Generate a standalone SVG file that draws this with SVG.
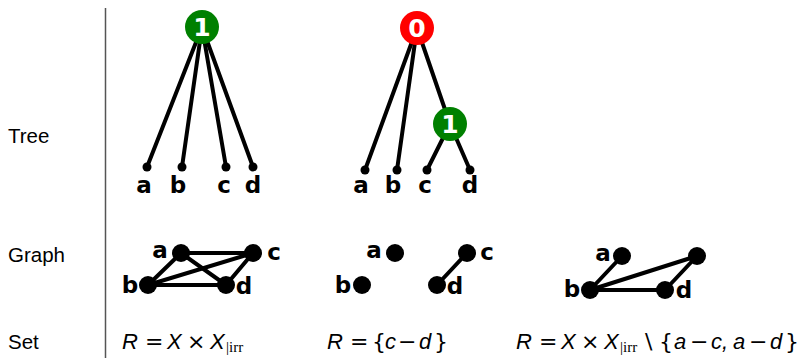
<svg xmlns="http://www.w3.org/2000/svg" width="800" height="358" viewBox="0 0 800 358">
  <style>
    .row { font-family: "Liberation Sans", Arial, sans-serif; font-size: 20.5px; fill: #000; }
    .lbl { font-family: "DejaVu Sans", sans-serif; font-weight: bold; font-size: 23px; fill: #000; text-anchor: middle; }
    .num { font-family: "DejaVu Sans", sans-serif; font-weight: bold; font-size: 25px; fill: #fff; text-anchor: middle; }
    .edge { stroke: #000; stroke-width: 4; stroke-linecap: round; fill: none; }
    .leaf { fill: #000; }
    .gnode { fill: #000; }
    .mi { font-family: "Liberation Sans", Arial, sans-serif; font-style: italic; font-size: 22px; fill: #000; }
    .mo { font-family: "DejaVu Sans", sans-serif; font-size: 22px; fill: #000; }
    .sub { font-family: "Liberation Serif", "Times New Roman", serif; font-size: 15px; fill: #000; }
  </style>

  <!-- row headings and divider -->
  <g id="headings">
    <text class="row" x="8" y="143">Tree</text>
    <text class="row" x="8" y="262">Graph</text>
    <text class="row" x="8" y="349">Set</text>
    <line x1="105.5" y1="8" x2="105.5" y2="358" stroke="#555" stroke-width="1.5"/>
  </g>

  <!-- tree edges -->
  <g id="tree-connectors">
    <line class="edge" x1="202" y1="27" x2="147" y2="167"/>
    <line class="edge" x1="202" y1="27" x2="182" y2="167"/>
    <line class="edge" x1="202" y1="27" x2="226" y2="167"/>
    <line class="edge" x1="202" y1="27" x2="253" y2="167"/>

    <line class="edge" x1="417" y1="28" x2="365" y2="170"/>
    <line class="edge" x1="417" y1="28" x2="397" y2="170"/>
    <line class="edge" x1="417" y1="28" x2="450" y2="124"/>
    <line class="edge" x1="450" y1="124" x2="427" y2="170"/>
    <line class="edge" x1="450" y1="124" x2="470" y2="170"/>
  </g>

  <!-- tree 1 -->
  <g id="t1-root">
    <circle cx="202" cy="27" r="17" fill="#008000"/>
    <text class="num" x="202" y="36">1</text>
  </g>
  <g id="t1-a"><circle class="leaf" cx="147" cy="167" r="4.5"/><text class="lbl" x="144" y="193">a</text></g>
  <g id="t1-b"><circle class="leaf" cx="182" cy="167" r="4.5"/><text class="lbl" x="178" y="193">b</text></g>
  <g id="t1-c"><circle class="leaf" cx="226" cy="167" r="4.5"/><text class="lbl" x="224" y="193">c</text></g>
  <g id="t1-d"><circle class="leaf" cx="253" cy="167" r="4.5"/><text class="lbl" x="253" y="193">d</text></g>

  <!-- tree 2 -->
  <g id="t2-root">
    <circle cx="417" cy="28" r="17" fill="#ff0000"/>
    <text class="num" x="417" y="37">0</text>
  </g>
  <g id="t2-inner">
    <circle cx="450" cy="124" r="17" fill="#008000"/>
    <text class="num" x="450" y="133">1</text>
  </g>
  <g id="t2-a"><circle class="leaf" cx="365" cy="170" r="4.5"/><text class="lbl" x="361" y="193">a</text></g>
  <g id="t2-b"><circle class="leaf" cx="397" cy="170" r="4.5"/><text class="lbl" x="393" y="193">b</text></g>
  <g id="t2-c"><circle class="leaf" cx="427" cy="170" r="4.5"/><text class="lbl" x="425" y="193">c</text></g>
  <g id="t2-d"><circle class="leaf" cx="470" cy="170" r="4.5"/><text class="lbl" x="470" y="193">d</text></g>

  <!-- graph edges -->
  <g id="graph-connectors">
    <line class="edge" x1="181" y1="253" x2="253" y2="253"/>
    <line class="edge" x1="181" y1="253" x2="148" y2="285"/>
    <line class="edge" x1="181" y1="253" x2="226" y2="285"/>
    <line class="edge" x1="148" y1="285" x2="253" y2="253"/>
    <line class="edge" x1="148" y1="285" x2="226" y2="285"/>
    <line class="edge" x1="253" y1="253" x2="226" y2="285"/>

    <line class="edge" x1="467" y1="253" x2="437" y2="285"/>

    <line class="edge" x1="622" y1="256" x2="590" y2="290"/>
    <line class="edge" x1="590" y1="290" x2="697" y2="256"/>
    <line class="edge" x1="590" y1="290" x2="665" y2="290"/>
    <line class="edge" x1="697" y1="256" x2="665" y2="290"/>
  </g>

  <!-- graph 1 -->
  <g id="g1-a"><circle class="gnode" cx="181" cy="253" r="9"/><text class="lbl" x="160" y="258">a</text></g>
  <g id="g1-c"><circle class="gnode" cx="253" cy="253" r="9"/><text class="lbl" x="274" y="260">c</text></g>
  <g id="g1-b"><circle class="gnode" cx="148" cy="285" r="9"/><text class="lbl" x="130" y="293">b</text></g>
  <g id="g1-d"><circle class="gnode" cx="226" cy="285" r="9"/><text class="lbl" x="244" y="294">d</text></g>

  <!-- graph 2 -->
  <g id="g2-a"><circle class="gnode" cx="395" cy="253" r="9"/><text class="lbl" x="374" y="258">a</text></g>
  <g id="g2-c"><circle class="gnode" cx="467" cy="253" r="9"/><text class="lbl" x="487" y="260">c</text></g>
  <g id="g2-b"><circle class="gnode" cx="362" cy="285" r="9"/><text class="lbl" x="343" y="293">b</text></g>
  <g id="g2-d"><circle class="gnode" cx="437" cy="285" r="9"/><text class="lbl" x="455" y="294">d</text></g>

  <!-- graph 3 -->
  <g id="g3-a"><circle class="gnode" cx="622" cy="256" r="9"/><text class="lbl" x="603" y="261">a</text></g>
  <g id="g3-c"><circle class="gnode" cx="697" cy="256" r="9"/></g>
  <g id="g3-b"><circle class="gnode" cx="590" cy="290" r="9"/><text class="lbl" x="572" y="297">b</text></g>
  <g id="g3-d"><circle class="gnode" cx="665" cy="290" r="9"/><text class="lbl" x="684" y="298">d</text></g>

  <!-- set formulas -->
  <g id="set-1">
    <text class="mi" x="122" y="349">R</text>
    <text class="mo" x="145" y="349">=</text>
    <text class="mi" x="167" y="349">X</text>
    <text class="mo" x="187" y="349">×</text>
    <text class="mi" x="210" y="349">X</text>
    <text class="sub" x="226" y="352">|irr</text>
  </g>
  <g id="set-2">
    <text class="mi" x="327" y="349">R</text>
    <text class="mo" x="350" y="349">=</text>
    <text class="mo" x="372" y="349">{</text>
    <text class="mi" x="385" y="349">c</text>
    <text class="mo" x="398" y="349">−</text>
    <text class="mi" x="419" y="349">d</text>
    <text class="mo" x="434" y="349">}</text>
  </g>
  <g id="set-3">
    <text class="mi" x="516" y="349">R</text>
    <text class="mo" x="539" y="349">=</text>
    <text class="mi" x="561" y="349">X</text>
    <text class="mo" x="581" y="349">×</text>
    <text class="mi" x="604" y="349">X</text>
    <text class="sub" x="620" y="352">|irr</text>
    <text class="mo" x="645" y="349">\</text>
    <text class="mo" x="659" y="349">{</text>
    <text class="mi" x="674" y="349">a</text>
    <text class="mo" x="690" y="349">−</text>
    <text class="mi" x="711" y="349">c</text>
    <text class="mi" x="722" y="349">,</text>
    <text class="mi" x="733" y="349">a</text>
    <text class="mo" x="749" y="349">−</text>
    <text class="mi" x="770" y="349">d</text>
    <text class="mo" x="785" y="349">}</text>
  </g>
</svg>
